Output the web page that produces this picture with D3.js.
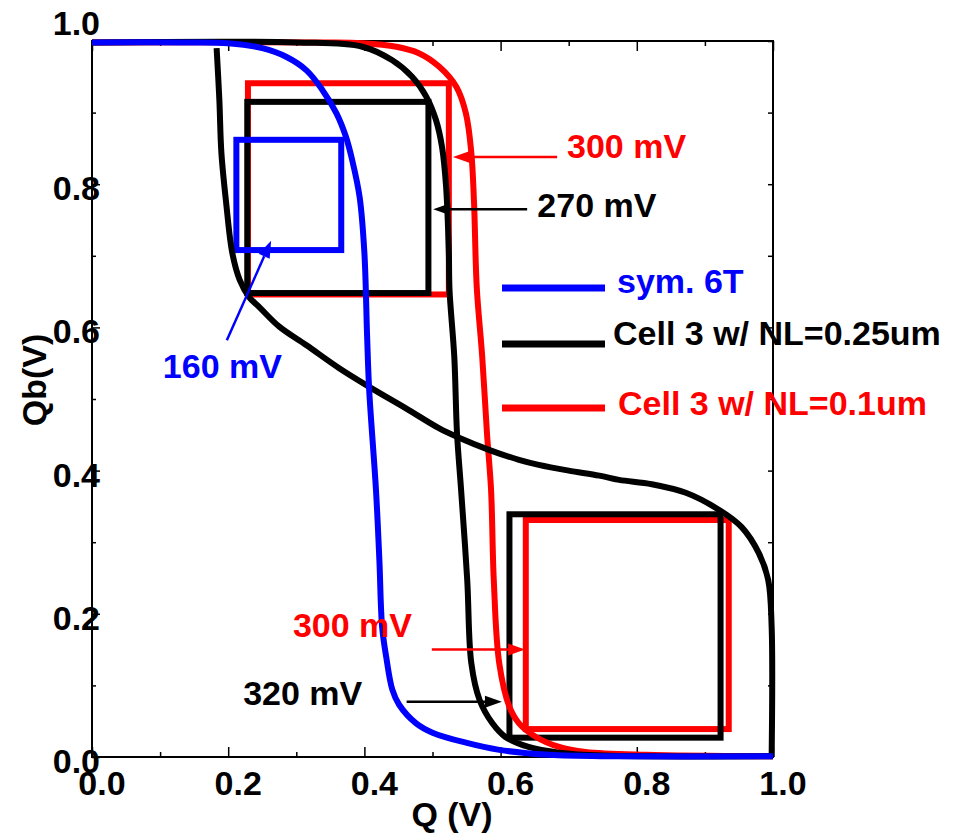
<!DOCTYPE html>
<html>
<head>
<meta charset="utf-8">
<script src="https://cdn.jsdelivr.net/npm/d3@7"></script>
<style>
  html, body { margin: 0; padding: 0; background: #fff; }
  svg { display: block; }
  text { font-family: "Liberation Sans", Arial, Helvetica, sans-serif; font-weight: bold; }
</style>
</head>
<body>
<svg id="chart" width="965" height="837"></svg>
<script>
// ---- data ----
const xMajor = [0, 0.2, 0.4, 0.6, 0.8, 1.0];
const xMinor = [0.1, 0.3, 0.5, 0.7, 0.9];
const yMajor = [0, 0.2, 0.4, 0.6, 0.8, 1.0];
const yMinor = [0.1, 0.3, 0.5, 0.7, 0.9];
const tickLabels = ["0.0", "0.2", "0.4", "0.6", "0.8", "1.0"];

const seriesNames = ["sym. 6T", "Cell 3 w/ NL=0.25um", "Cell 3 w/ NL=0.1um"];

// sym. 6T transfer curve [Q, Qb]
const blueCurve = [
  [0, 0.998], [0.13, 0.998], [0.2, 0.997], [0.25, 0.99], [0.285, 0.978], [0.315, 0.959],
  [0.338, 0.932], [0.359, 0.899], [0.373, 0.866], [0.382, 0.834], [0.393, 0.782], [0.4, 0.704],
  [0.404, 0.587], [0.407, 0.513], [0.417, 0.373], [0.422, 0.275], [0.426, 0.182], [0.432, 0.14],
  [0.441, 0.094], [0.451, 0.073], [0.476, 0.047], [0.5, 0.034], [0.549, 0.02], [0.598, 0.01],
  [0.671, 0.003], [0.77, 0.001], [1.0, 0.001]
];

// Cell 3 w/ NL=0.1um
const redCurve = [
  [0, 0.998], [0.338, 0.998], [0.397, 0.997], [0.447, 0.992], [0.48, 0.983], [0.51, 0.964],
  [0.535, 0.936], [0.549, 0.899], [0.557, 0.844], [0.561, 0.774], [0.565, 0.656], [0.573, 0.559],
  [0.58, 0.452], [0.586, 0.373], [0.59, 0.247], [0.598, 0.131], [0.613, 0.07], [0.627, 0.047],
  [0.652, 0.028], [0.686, 0.014], [0.725, 0.007], [0.813, 0.003], [1.0, 0.001]
];

// Cell 3 w/ NL=0.25um, both branches of the butterfly
const blackCurveA = [
  [0, 0.998], [0.3, 0.998], [0.397, 0.992], [0.441, 0.973], [0.47, 0.95], [0.491, 0.922],
  [0.505, 0.89], [0.514, 0.852], [0.52, 0.796], [0.524, 0.704], [0.525, 0.652], [0.532, 0.559],
  [0.536, 0.452], [0.542, 0.373], [0.551, 0.247], [0.557, 0.131], [0.569, 0.08], [0.588, 0.047],
  [0.607, 0.028], [0.641, 0.014], [0.686, 0.006], [0.75, 0.002], [1.0, 0.001]
];
const blackCurveB = [
  [0.183, 0.99], [0.187, 0.918], [0.19, 0.844], [0.197, 0.774], [0.206, 0.704], [0.217, 0.666],
  [0.231, 0.642], [0.246, 0.628], [0.275, 0.601], [0.315, 0.575], [0.363, 0.543], [0.407, 0.517],
  [0.461, 0.487], [0.51, 0.459], [0.539, 0.446], [0.583, 0.429], [0.627, 0.415], [0.656, 0.408],
  [0.7, 0.4], [0.745, 0.393], [0.774, 0.387], [0.822, 0.381], [0.872, 0.369], [0.921, 0.345],
  [0.954, 0.321], [0.979, 0.285], [0.993, 0.247], [0.998, 0.182], [0.998, 0.0]
];

// noise margin squares [Q0, Qb0, Q1, Qb1]
const redSquares = [[0.229, 0.646, 0.524, 0.941], [0.637, 0.039, 0.935, 0.331]];
const blackSquares = [[0.228, 0.648, 0.494, 0.915], [0.613, 0.027, 0.923, 0.339]];
const blueSquares = [[0.212, 0.708, 0.366, 0.862]];

// annotation labels
const noteTexts = ["300 mV", "270 mV", "160 mV", "300 mV", "320 mV"];

// ---- layout ----
const svg = d3.select("#chart");
const x = d3.scaleLinear().domain([0, 1]).range([92, 773]);
const y = d3.scaleLinear().domain([0, 1]).range([757, 41]);
const colors = { blue: "#0000ff", black: "#000000", red: "#ff0000" };

// frame
svg.append("rect")
  .attr("x", x(0)).attr("y", y(1))
  .attr("width", x(1) - x(0)).attr("height", y(0) - y(1))
  .attr("fill", "none").attr("stroke", "#000").attr("stroke-width", 2);

function tickAxis(axisFn, scale, values, size, transform) {
  const g = svg.append("g")
    .attr("transform", transform)
    .call(axisFn(scale).tickValues(values).tickSize(size).tickFormat(""));
  g.select(".domain").remove();
  g.selectAll(".tick line").attr("stroke", "#000").attr("stroke-width", 1.5);
}

// bottom & top ticks point inward
tickAxis(d3.axisTop, x, xMajor, 10, `translate(0,${y(0)})`);
tickAxis(d3.axisTop, x, xMinor, 5, `translate(0,${y(0)})`);
tickAxis(d3.axisBottom, x, xMajor, 10, `translate(0,${y(1)})`);
tickAxis(d3.axisBottom, x, xMinor, 5, `translate(0,${y(1)})`);
// left & right ticks
tickAxis(d3.axisRight, y, yMajor, 8, `translate(${x(0)},0)`);
tickAxis(d3.axisRight, y, yMinor, 4, `translate(${x(0)},0)`);
tickAxis(d3.axisLeft, y, yMajor, 5, `translate(${x(1)},0)`);
tickAxis(d3.axisLeft, y, yMinor, 5, `translate(${x(1)},0)`);

// tick labels
svg.append("g").selectAll("text")
  .data(yMajor)
  .join("text")
  .attr("x", 100)
  .attr("y", d => d === 1 ? 35 : y(d) + 16)
  .attr("text-anchor", "end")
  .attr("font-size", 34)
  .text((d, i) => tickLabels[i]);

svg.append("g").selectAll("text")
  .data(xMajor)
  .join("text")
  .attr("x", d => x(d) + 10)
  .attr("y", 795)
  .attr("text-anchor", "middle")
  .attr("font-size", 34)
  .text((d, i) => tickLabels[i]);

// axis titles
svg.append("text")
  .attr("x", 452).attr("y", 826)
  .attr("text-anchor", "middle")
  .attr("font-size", 34)
  .text("Q (V)");

svg.append("text")
  .attr("transform", "translate(46,380) rotate(-90)")
  .attr("text-anchor", "middle")
  .attr("font-size", 34)
  .text("Qb(V)");

// squares
function drawSquares(list, color) {
  svg.append("g").selectAll("rect")
    .data(list)
    .join("rect")
    .attr("x", d => x(d[0]))
    .attr("y", d => y(d[3]))
    .attr("width", d => x(d[2]) - x(d[0]))
    .attr("height", d => y(d[1]) - y(d[3]))
    .attr("fill", "none")
    .attr("stroke", color)
    .attr("stroke-width", 6);
}
drawSquares(redSquares, colors.red);
drawSquares(blackSquares, colors.black);
drawSquares(blueSquares, colors.blue);

// curves
const line = d3.line()
  .x(d => x(d[0]))
  .y(d => y(d[1]))
  .curve(d3.curveCatmullRom.alpha(0.5));

function drawCurve(data, color) {
  svg.append("path")
    .datum(data)
    .attr("d", line)
    .attr("fill", "none")
    .attr("stroke", color)
    .attr("stroke-width", 6)
    .attr("stroke-linejoin", "round");
}
drawCurve(redCurve, colors.red);
drawCurve(blackCurveA, colors.black);
drawCurve(blackCurveB, colors.black);
drawCurve(blueCurve, colors.blue);

// annotations: text anchor + arrow from/to in data units
const notes = [
  { color: colors.red,   tx: 0.6975, ty: 0.837, from: [0.683, 0.838], to: [0.530, 0.838] },
  { color: colors.black, tx: 0.654,  ty: 0.754, from: [0.639, 0.765], to: [0.501, 0.765] },
  { color: colors.blue,  tx: 0.104,  ty: 0.529, from: [0.198, 0.582], to: [0.263, 0.721] },
  { color: colors.red,   tx: 0.295,  ty: 0.168, from: [0.499, 0.150], to: [0.636, 0.150] },
  { color: colors.black, tx: 0.222,  ty: 0.072, from: [0.462, 0.077], to: [0.602, 0.077] }
];

const notesG = svg.append("g");
notes.forEach((n, i) => {
  const x1 = x(n.from[0]), y1 = y(n.from[1]);
  const x2 = x(n.to[0]), y2 = y(n.to[1]);
  const ang = Math.atan2(y2 - y1, x2 - x1);
  const headLen = 17, headW = 6;
  const bx = x2 - headLen * Math.cos(ang), by = y2 - headLen * Math.sin(ang);
  notesG.append("line")
    .attr("x1", x1).attr("y1", y1).attr("x2", bx).attr("y2", by)
    .attr("stroke", n.color).attr("stroke-width", 2.5);
  const px = -Math.sin(ang) * headW, py = Math.cos(ang) * headW;
  notesG.append("path")
    .attr("d", `M${x2},${y2}L${bx + px},${by + py}L${bx - px},${by - py}Z`)
    .attr("fill", n.color);
  notesG.append("text")
    .attr("x", x(n.tx)).attr("y", y(n.ty))
    .attr("font-size", 34)
    .attr("fill", n.color)
    .text(noteTexts[i]);
});

// legend
const legendColors = [colors.blue, colors.black, colors.red];
const legendLineY = [288, 344, 408];
const legendTextY = [293, 345, 415];
const legendTextX = [617, 613, 618];
const legend = svg.append("g");
seriesNames.forEach((name, i) => {
  legend.append("line")
    .attr("x1", 502).attr("x2", 605)
    .attr("y1", legendLineY[i]).attr("y2", legendLineY[i])
    .attr("stroke", legendColors[i]).attr("stroke-width", 7);
  legend.append("text")
    .attr("x", legendTextX[i]).attr("y", legendTextY[i])
    .attr("font-size", 34)
    .attr("fill", legendColors[i])
    .text(name);
});
</script>
</body>
</html>
